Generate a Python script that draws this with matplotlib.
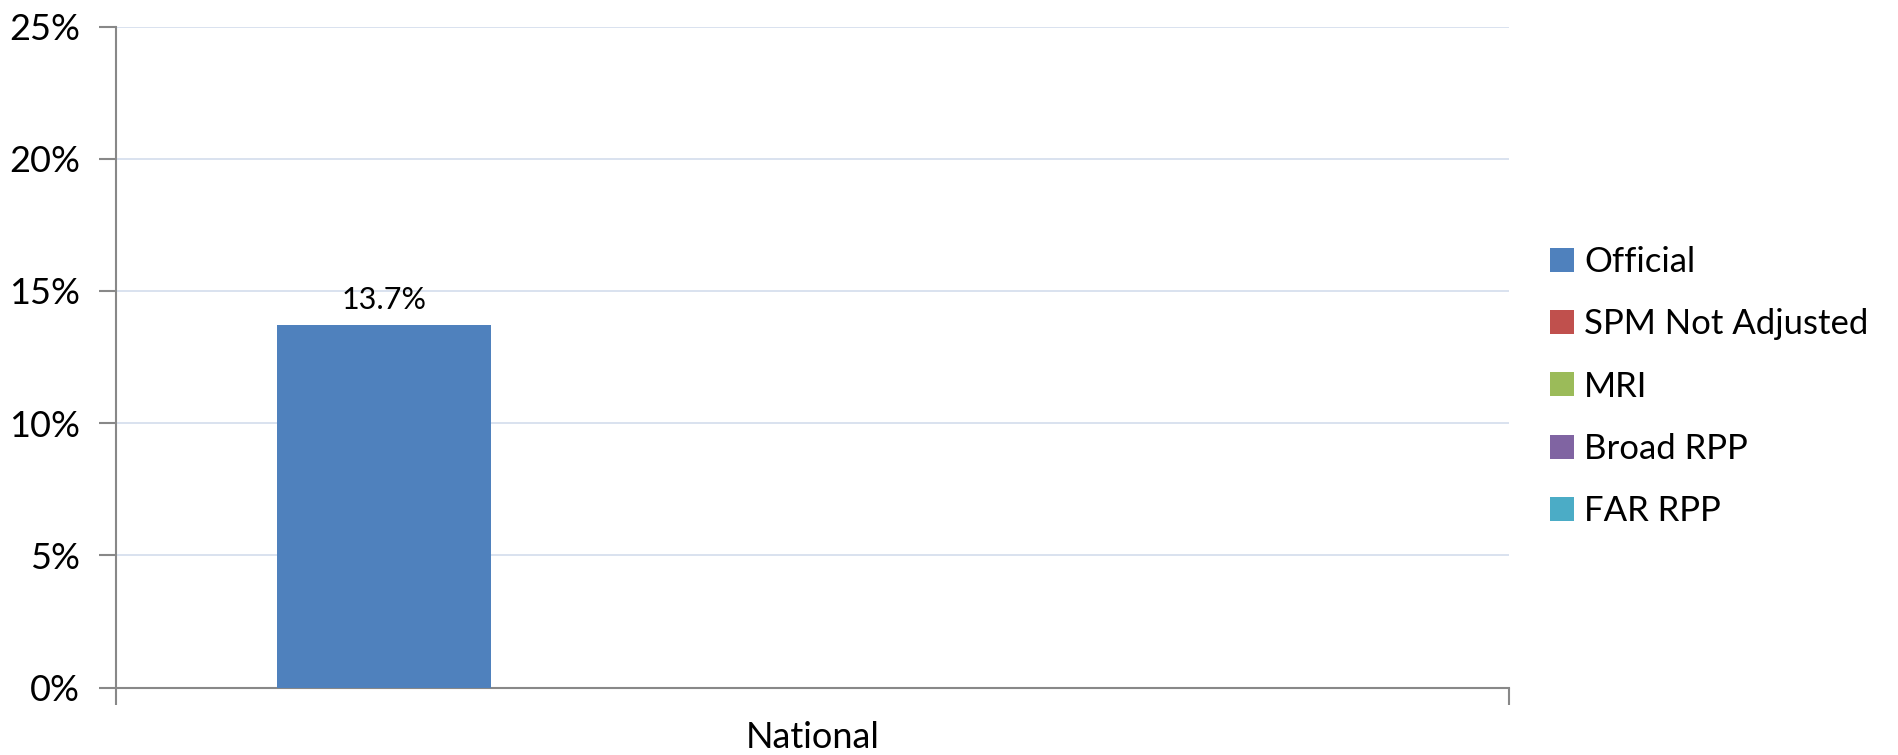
import matplotlib.pyplot as plt
import numpy as np

plt.rcParams['font.family'] = ['Lato', 'DejaVu Sans']

# poverty rate by measure, only the official one is filled in
categories = ['National']
series = ['Official', 'SPM Not Adjusted', 'MRI', 'Broad RPP', 'FAR RPP']
values = [
    [13.7],       # Official
    [np.nan],     # SPM Not Adjusted
    [np.nan],     # MRI
    [np.nan],     # Broad RPP
    [np.nan],     # FAR RPP
]
colors = ['#4F81BD', '#C0504D', '#9BBB59', '#8064A2', '#4BACC6']
yticks = [0, 5, 10, 15, 20, 25]

fig = plt.figure(figsize=(18.98, 7.55), dpi=100)
ax = fig.add_axes([0.0611, 0.0893, 0.734, 0.8755])

x = np.arange(len(categories))
w = 1 / 6.5  # excel style 150% gap width
for i, (name, vals, c) in enumerate(zip(series, values, colors)):
    bars = ax.bar(x + (i - 2) * w, vals, w, color=c, label=name, zorder=3)
    if not np.all(np.isnan(vals)):
        ax.bar_label(bars, fmt='%.1f%%', padding=8, fontsize=22)

ax.set_xlim(-0.5, len(categories) - 0.5)
ax.set_ylim(0, 25)
ax.set_yticks(yticks)
ax.set_yticklabels([f'{t}%' for t in yticks], fontsize=26)
ax.yaxis.grid(True, color='#D3DDEC', linewidth=1.2, zorder=0)

# category tick marks sit on the group boundaries
ax.set_xticks([-0.5, 0.5])
ax.set_xticklabels(['', ''])
ax.set_xticks(x, minor=True)
ax.set_xticklabels(categories, minor=True, fontsize=26)
ax.tick_params(axis='x', which='minor', length=0, pad=24)
ax.tick_params(axis='x', which='major', length=12, color='#888888', width=1.5)
ax.tick_params(axis='y', length=12, color='#888888', width=1.5, pad=14)

ax.spines['top'].set_visible(False)
ax.spines['right'].set_visible(False)
ax.spines['left'].set_color('#888888')
ax.spines['bottom'].set_color('#888888')
ax.spines['left'].set_linewidth(1.5)
ax.spines['bottom'].set_linewidth(1.5)

fig.legend(loc='center left', bbox_to_anchor=(0.8167, 0.488), frameon=False,
           fontsize=25, handlelength=0.68, handleheight=0.68, handletextpad=0.3,
           labelspacing=0.87, borderpad=0, borderaxespad=0)

fig.savefig('out.png', dpi=100)
